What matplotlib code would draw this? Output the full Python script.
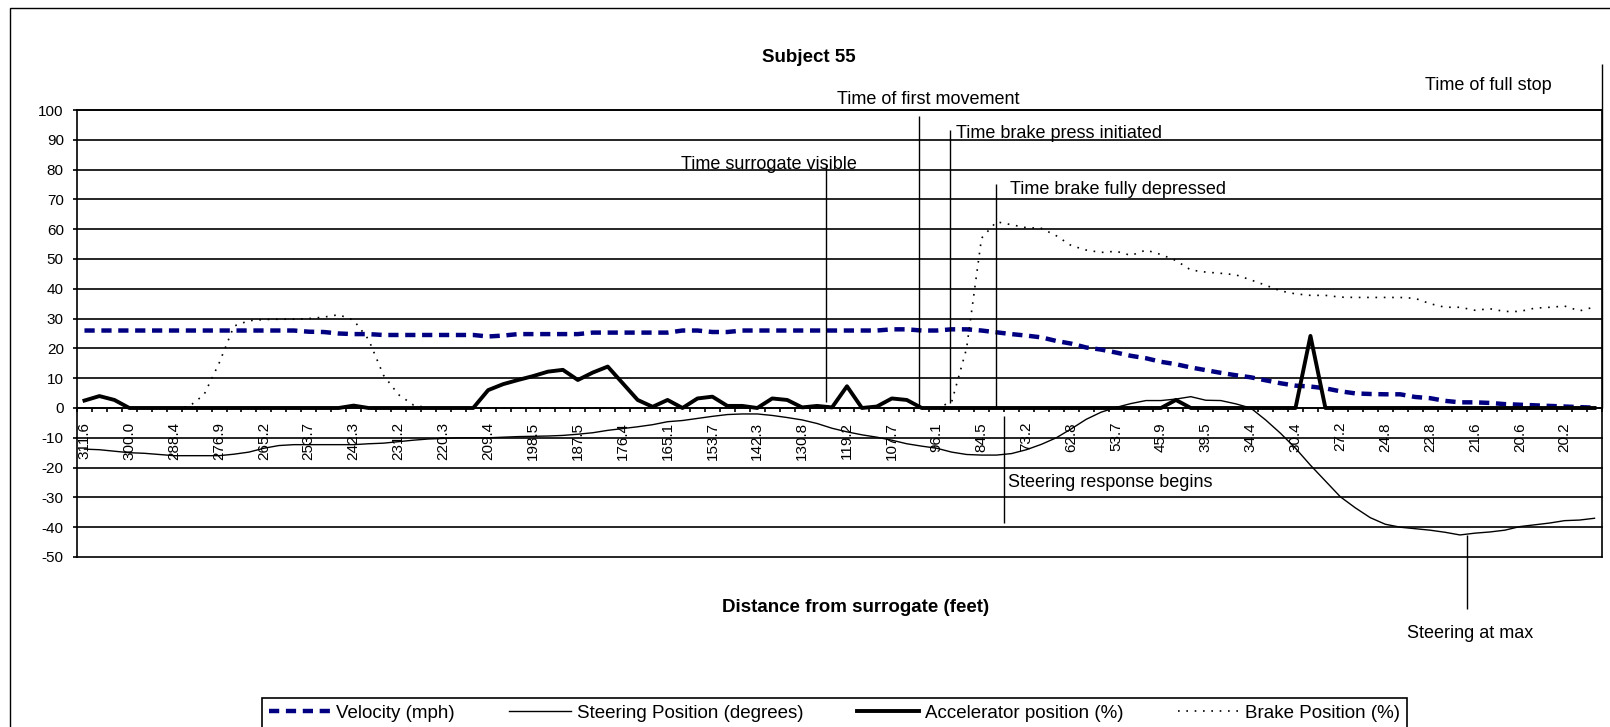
import numpy as np
import matplotlib
matplotlib.use("Agg")
import matplotlib.pyplot as plt
from matplotlib.patches import Rectangle

plt.rcParams['font.family'] = ['Liberation Sans', 'DejaVu Sans']
plt.rcParams['axes.unicode_minus'] = False

# distance from surrogate (feet), labelled on every 3rd sample
tick_labels = ['311.6', '300.0', '288.4', '276.9', '265.2', '253.7', '242.3', '231.2',
               '220.3', '209.4', '198.5', '187.5', '176.4', '165.1', '153.7', '142.3',
               '130.8', '119.2', '107.7', '96.1', '84.5', '73.2', '62.8', '53.7',
               '45.9', '39.5', '34.4', '30.4', '27.2', '24.8', '22.8', '21.6',
               '20.6', '20.2']

velocity = [26.0, 26.0, 26.0, 26.0, 26.0, 26.0, 26.0, 26.0, 26.0, 26.0,
            26.0, 26.0, 26.0, 26.0, 26.0, 25.6, 25.5, 25.0, 24.8, 24.8,
            24.5, 24.5, 24.5, 24.5, 24.5, 24.5, 24.5, 24.0, 24.3, 24.8,
            24.8, 24.8, 24.8, 24.8, 25.3, 25.3, 25.3, 25.3, 25.3, 25.3,
            26.0, 26.0, 25.5, 25.5, 26.0, 26.0, 26.0, 26.0, 26.0, 26.0,
            26.0, 26.0, 26.0, 26.0, 26.4, 26.4, 26.0, 26.0, 26.4, 26.4,
            26.0, 25.4, 24.8, 24.3, 23.7, 22.5, 21.6, 20.3, 19.6, 18.6,
            17.5, 16.7, 15.5, 14.7, 13.6, 12.7, 11.8, 11.0, 10.3, 9.3,
            8.3, 7.5, 7.2, 6.6, 5.6, 4.9, 4.7, 4.6, 4.6, 3.7,
            3.3, 2.4, 1.9, 1.9, 1.7, 1.3, 1.1, 0.9, 0.7, 0.5,
            0.3, 0.1]

steering = [-13.8, -14.0, -14.5, -15.0, -15.2, -15.6, -16.0, -16.0, -16.0, -16.0,
            -15.5, -14.8, -13.5, -12.6, -12.3, -12.3, -12.3, -12.3, -12.3, -12.0,
            -11.8, -11.3, -10.8, -10.4, -10.2, -10.0, -10.0, -10.0, -9.8, -9.6,
            -9.5, -9.4, -9.2, -8.8, -8.3, -7.5, -6.9, -6.3, -5.6, -4.6,
            -4.2, -3.5, -2.8, -2.2, -2.0, -2.0, -2.5, -3.2, -4.0, -5.2,
            -6.8, -8.0, -9.0, -9.8, -10.8, -12.0, -12.8, -13.5, -14.8, -15.6,
            -15.8, -15.8, -15.3, -14.0, -12.2, -10.0, -7.0, -3.8, -1.4, 0.2,
            1.5, 2.5, 2.5, 3.0, 3.8, 2.6, 2.5, 1.4, 0.0, -4.0,
            -8.5, -13.5, -19.2, -24.5, -29.8, -33.5, -36.8, -39.0, -40.0, -40.5,
            -41.0, -41.7, -42.6, -42.0, -41.6, -41.0, -39.8, -39.2, -38.6, -37.8,
            -37.6, -37.0]

accelerator = [2.5, 4.0, 2.7, 0.0, 0.0, 0.0, 0.0, 0.0, 0.0, 0.0,
               0.0, 0.0, 0.0, 0.0, 0.0, 0.0, 0.0, 0.0, 0.8, 0.0,
               0.0, 0.0, 0.0, 0.0, 0.0, 0.0, 0.0, 6.0, 8.0, 9.4,
               10.7, 12.2, 12.8, 9.4, 11.9, 13.9, 8.3, 2.7, 0.4, 2.7,
               0.0, 3.2, 3.8, 0.7, 0.7, 0.0, 3.2, 2.7, 0.2, 0.7,
               0.2, 7.3, 0.0, 0.5, 3.2, 2.7, 0.0, 0.0, 0.0, 0.0,
               0.0, 0.0, 0.0, 0.0, 0.0, 0.0, 0.0, 0.0, 0.0, 0.0,
               0.0, 0.0, 0.0, 2.7, 0.0, 0.0, 0.0, 0.0, 0.0, 0.0,
               0.0, 0.0, 24.2, 0.0, 0.0, 0.0, 0.0, 0.0, 0.0, 0.0,
               0.0, 0.0, 0.0, 0.0, 0.0, 0.0, 0.0, 0.0, 0.0, 0.0,
               0.0, 0.0]

brake = [0.0, 0.0, 0.0, 0.0, 0.0, 0.0, 0.0, 0.5, 4.5, 15.0,
         27.5, 29.3, 29.7, 29.8, 29.8, 30.0, 30.5, 31.3, 29.5, 23.0,
         11.0, 4.5, 1.0, 0.0, 0.0, 0.0, 0.0, 0.0, 0.0, 0.0,
         0.0, 0.0, 0.0, 0.0, 0.0, 0.0, 0.0, 0.0, 0.0, 0.0,
         0.0, 0.0, 0.0, 0.0, 0.0, 0.0, 0.0, 0.0, 0.0, 0.0,
         0.0, 0.0, 0.0, 0.0, 0.0, 0.0, 0.0, 0.0, 2.0, 20.0,
         57.0, 62.5, 61.5, 60.5, 60.3, 57.8, 54.5, 53.0, 52.2, 52.6,
         51.2, 53.0, 51.5, 49.5, 46.3, 45.6, 45.2, 44.7, 43.0, 41.2,
         39.3, 38.3, 37.8, 37.8, 37.2, 37.1, 37.1, 37.1, 37.1, 36.8,
         35.0, 33.8, 33.8, 32.8, 33.3, 32.4, 32.4, 33.5, 33.8, 34.2,
         32.6, 33.9]

# event markers: label, sample position, line extent, text anchor
events = [
    ('Time surrogate visible',     49.6, (2.0, 82.0),    (39.9, 81.7, 'left')),
    ('Time of first movement',     55.8, (0.0, 98.0),    (50.3, 103.6, 'left')),
    ('Time brake press initiated', 57.9, (1.7, 93.4),    (58.3, 92.2, 'left')),
    ('Time brake fully depressed', 61.0, (0.0, 75.0),    (61.9, 73.2, 'left')),
    ('Steering response begins',   61.5, (-38.6, -2.6),  (61.8, -25.1, 'left')),
    ('Steering at max',            92.5, (-67.5, -42.7), (92.7, -75.7, 'center')),
    ('Time of full stop',          101.5, (0.0, 115.6),  (93.9, 108.1, 'center')),
]

W, H = 1610, 727
fig = plt.figure(figsize=(W / 100, H / 100), dpi=100)
fig.patch.set_facecolor('white')

# chart-area border (runs off the right and bottom edges)
fig.patches.append(Rectangle((10 / W, -0.1), 1.2, 1 - 8 / H + 0.1, transform=fig.transFigure,
                             fill=False, edgecolor='black', lw=1.0))

ax = fig.add_axes([77 / W, 1 - 557 / H, 1525 / W, 447 / H])
x = np.arange(len(velocity))

ax.plot(x, velocity, color='#000080', lw=3.2, linestyle=(0, (2.3, 1.5)),
        dash_capstyle='butt', label='Velocity (mph)')
ax.plot(x, steering, color='black', lw=1.0, label='Steering Position (degrees)')
ax.plot(x, accelerator, color='black', lw=2.8, label='Accelerator position (%)')
ax.plot(x, brake, color='black', lw=1.2, linestyle=(0, (1, 4)), label='Brake Position (%)')

ax.set_xlim(-0.5, len(x) - 0.5)
ax.set_ylim(-50, 100)
ax.set_yticks(np.arange(-50, 101, 10))
ax.yaxis.grid(True, color='black', lw=1.2)
for gl in ax.get_ygridlines():
    gl.set_clip_on(False)
ax.set_axisbelow(True)

ax.spines['bottom'].set_position(('data', 0))
for s in ax.spines.values():
    s.set_linewidth(1.2)

ax.set_xticks(np.arange(-0.5, len(x), 1))
ax.set_xticklabels([])
ax.set_xticks(np.arange(0, len(x), 3)[:len(tick_labels)], tick_labels, minor=True)
ax.tick_params(axis='x', which='major', direction='out', length=3, width=1.2)
ax.tick_params(axis='x', which='minor', length=0, pad=10, labelsize=11, labelrotation=90)
ax.tick_params(axis='y', direction='out', length=3, width=1.2, pad=6.5, labelsize=11)

for label, ex, (y0, y1), (tx, ty, ha) in events:
    ax.vlines(ex, y0, y1, color='black', lw=1.0, clip_on=False)
    ax.text(tx, ty, label, ha=ha, va='center', fontsize=13, clip_on=False)

fig.text(809 / W, 1 - 57.5 / H, 'Subject 55', ha='center', va='center',
         fontsize=13.5, fontweight='bold')
fig.text(856 / W, 1 - 607 / H, 'Distance from surrogate (feet)', ha='center', va='center',
         fontsize=13.5, fontweight='bold')

leg = fig.legend(loc='upper left', bbox_to_anchor=(262 / W, 1 - 698 / H), ncol=4,
                 frameon=True, fancybox=False, edgecolor='black', framealpha=1,
                 fontsize=13.5, handlelength=3.3, handletextpad=0.3, columnspacing=2.9,
                 borderpad=0.35, borderaxespad=0)
leg.get_frame().set_linewidth(1.2)

fig.savefig('out.png', dpi=100, facecolor='white')
